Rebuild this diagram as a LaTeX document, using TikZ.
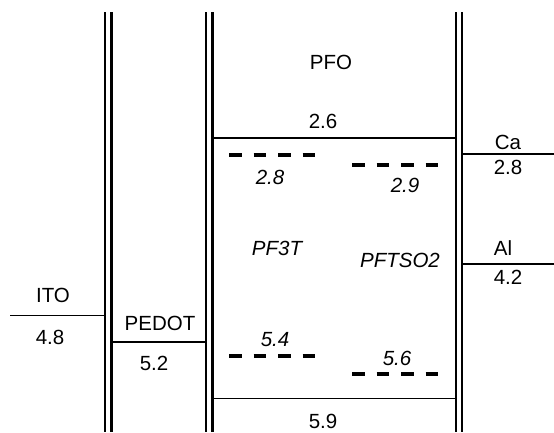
\documentclass[tikz,border=0pt]{standalone}
\usepackage{fontspec}
\setmainfont{Liberation Sans}
\usetikzlibrary{positioning}

\begin{document}
\begin{tikzpicture}[
    x=1pt, y=-1pt,
    wall/.style={line width=2.2pt},
    level/.style={line width=1.7pt},
    dopant/.style={line width=3.2pt, dash pattern=on 12.5pt off 12pt},
    lbl/.style={font=\fontsize{20.5}{24}\selectfont, inner sep=0pt},
    dlbl/.style={font=\fontsize{20.5}{24}\selectfont\itshape, inner sep=0pt},
]
    \useasboundingbox (0,0) rectangle (554,432);

    % layer walls
    \foreach \x in {105,111.5,206,212.5,456,462}
        \draw[wall] (\x,12) -- (\x,432);

    % levels
    \draw[level] (10,315.5) -- (105,315.5);
    \draw[level] (111.5,342) -- (206,342);
    \draw[level] (212.5,138) -- (457,138);
    \draw[level] (212.5,398.5) -- (456,398.5);
    \draw[level] (462,154) -- (554,154);
    \draw[level] (462,264) -- (554,264);

    % dopant levels
    \draw[dopant] (229,155) -- (315,155);
    \draw[dopant] (352,165) -- (438,165);
    \draw[dopant] (229,356) -- (315,356);
    \draw[dopant] (352,374) -- (438,374);

    \node[lbl] (ito) at (53,295) {ITO};
    \node[lbl] (itov) at (50,337) {4.8};
    \node[lbl] (pedot) at (160,323) {PEDOT};
    \node[lbl] (pedotv) at (154,363) {5.2};
    \node[lbl] (pfo) at (331,62) {PFO};
    \node[lbl] (lumo) at (323,121) {2.6};
    \node[lbl] (homo) at (323,421) {5.9};
    \node[dlbl] (pfl) at (270,177) {2.8};
    \node[dlbl] (psl) at (405,185) {2.9};
    \node[dlbl] (pf3t) at (277,248) {PF3T};
    \node[dlbl] (pftso) at (400,260) {PFTSO2};
    \node[dlbl] (pfh) at (275,340) {5.4};
    \node[dlbl] (psh) at (397,358) {5.6};
    \node[lbl] (ca) at (508,142) {Ca};
    \node[lbl] (cav) at (508,167) {2.8};
    \node[lbl] (al) at (503,248) {Al};
    \node[lbl] (alv) at (508,277) {4.2};
\end{tikzpicture}
\end{document}
